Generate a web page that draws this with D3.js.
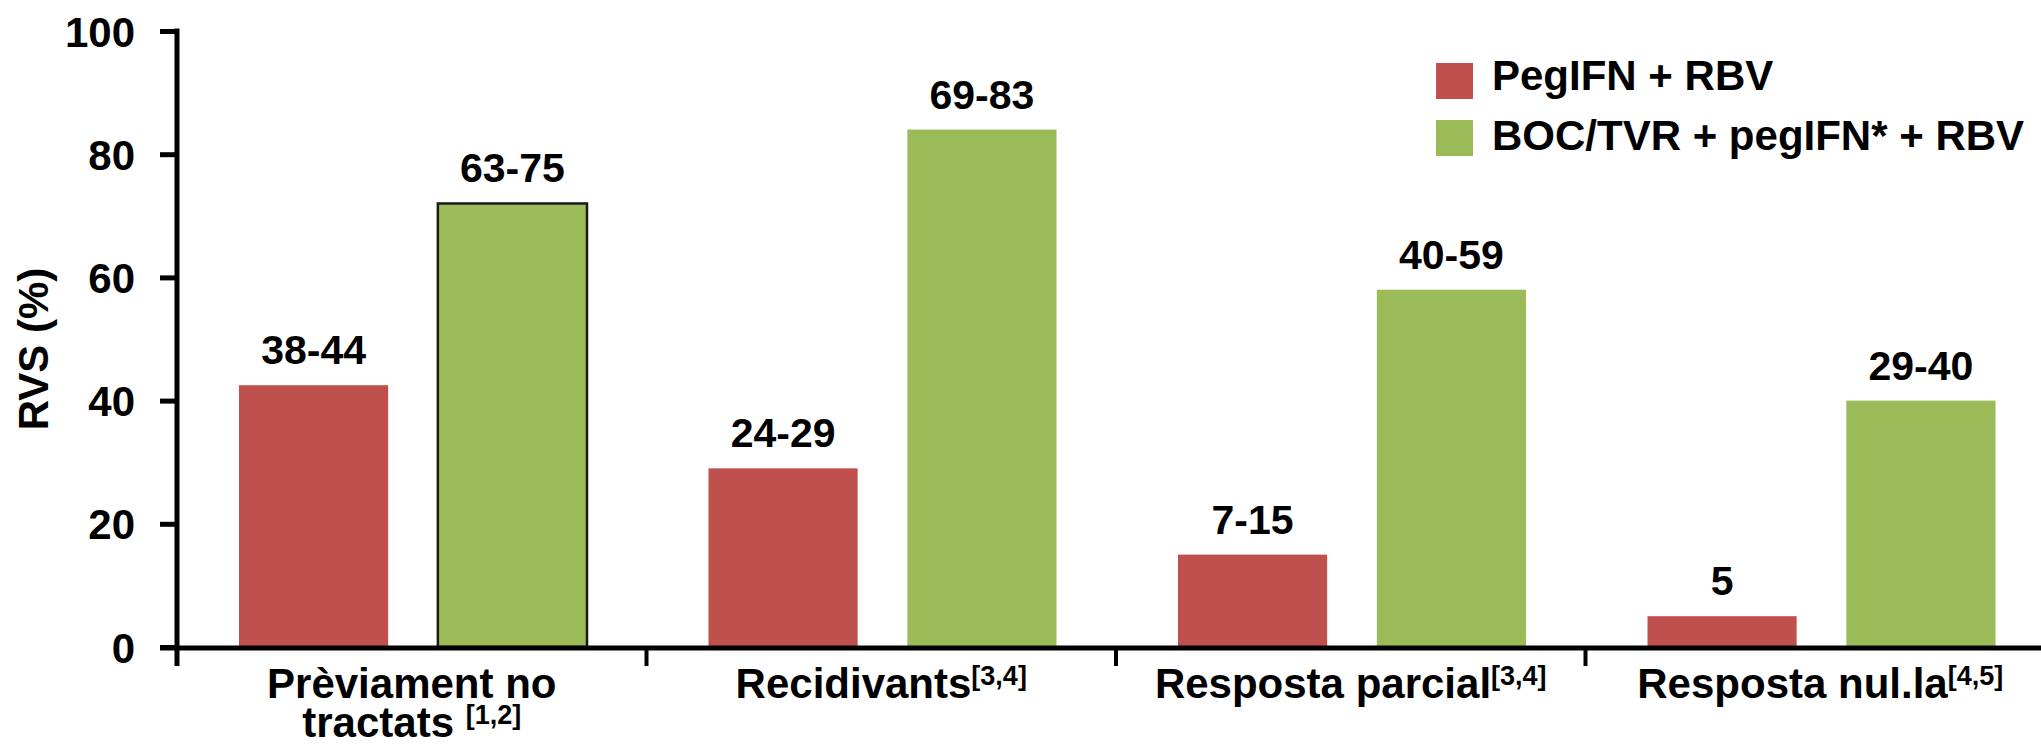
<!DOCTYPE html>
<html>
<head>
<meta charset="utf-8">
<script src="https://cdn.jsdelivr.net/npm/d3@7"></script>
<style>
  html, body { margin: 0; padding: 0; background: #fff; }
  svg { display: block; font-family: "Liberation Sans", Arial, sans-serif; font-weight: bold; }
</style>
</head>
<body>
<svg id="chart" width="2041" height="748"></svg>
<script>
// Patient groups (label lines + reference superscript)
const categoryLines = [["Prèviament no", "tractats "], ["Recidivants"], ["Resposta parcial"], ["Resposta nul.la"]];
const categoryRefs = ["[1,2]", "[3,4]", "[3,4]", "[4,5]"];

// Series
const seriesNames = ["PegIFN + RBV", "BOC/TVR + pegIFN* + RBV"];
const seriesColors = ["#C0504D", "#9BBB59"];

// RVS (%) per group
const pegValues = [42.5, 29, 15, 5];
const bocValues = [72, 84, 58, 40];
const pegLabels = ["38-44", "24-29", "7-15", "5"];
const bocLabels = ["63-75", "69-83", "40-59", "29-40"];

const yTicks = [0, 20, 40, 60, 80, 100];

const svg = d3.select("#chart");
const W = 2041, H = 748;
const x0 = 177, yTop = 31, yBase = 647;
const step = 469.5;

const groups = d3.range(categoryLines.length);
const x = d3.scaleBand().domain(groups).range([x0, x0 + step * groups.length]).padding(0);
const xs = d3.scaleBand().domain([0, 1]).range([62, 410]).paddingInner(0.25);
const y = d3.scaleLinear().domain([0, 100]).range([yBase, yTop]);

const rows = groups.map(i => [
  { s: 0, v: pegValues[i], label: pegLabels[i] },
  { s: 1, v: bocValues[i], label: bocLabels[i] }
]);

// Bars with range labels above them
const g = svg.append("g");
groups.forEach(i => {
  rows[i].forEach(d => {
    const bx = x(i) + xs(d.s);
    const rect = g.append("rect")
      .attr("x", bx)
      .attr("y", y(d.v))
      .attr("width", xs.bandwidth())
      .attr("height", y(0) - y(d.v))
      .attr("fill", seriesColors[d.s]);
    if (i === 0 && d.s === 1) {
      rect.attr("stroke", "#1a1a1a").attr("stroke-width", 2.5);
    }
    g.append("text")
      .attr("x", bx + xs.bandwidth() / 2)
      .attr("y", y(d.v) - 21)
      .attr("text-anchor", "middle")
      .attr("font-size", 41)
      .attr("fill", "#000")
      .text(d.label);
  });
});

// Y axis
const yAxis = d3.axisLeft(y).tickValues(yTicks).tickSize(17).tickPadding(25).tickSizeOuter(0);
const ya = svg.append("g").attr("transform", `translate(${x0},0)`).call(yAxis);
ya.select(".domain").remove();
ya.selectAll(".tick line").attr("stroke", "#000").attr("stroke-width", 5);
ya.selectAll(".tick text")
  .attr("font-size", 42).attr("font-weight", "bold")
  .attr("font-family", "Liberation Sans, Arial, sans-serif")
  .attr("fill", "#000").attr("dy", "0.36em");
svg.append("line")
  .attr("x1", x0).attr("x2", x0)
  .attr("y1", y(100) - 2.5).attr("y2", y(0) + 19)
  .attr("stroke", "#000").attr("stroke-width", 5);

// X axis line and group separators
svg.append("line")
  .attr("x1", x0 - 17).attr("x2", W)
  .attr("y1", y(0) + 1).attr("y2", y(0) + 1)
  .attr("stroke", "#000").attr("stroke-width", 5);
groups.slice(1).forEach(i => {
  svg.append("line")
    .attr("x1", x(i)).attr("x2", x(i))
    .attr("y1", y(0)).attr("y2", y(0) + 19)
    .attr("stroke", "#000").attr("stroke-width", 4);
});

// Category labels: one text per group, one tspan per line, superscript reference on the last line
groups.forEach(i => {
  const lines = categoryLines[i];
  const cx = x(i) + x.bandwidth() / 2;
  const t = svg.append("text")
    .attr("y", 698)
    .attr("text-anchor", "middle")
    .attr("font-size", 42)
    .attr("fill", "#000");
  lines.forEach((ln, k) => {
    const last = k === lines.length - 1;
    t.append("tspan")
      .attr("x", cx)
      .attr("dy", k === 0 ? 0 : 39 + 13 * 0)
      .text(ln);
    if (last) {
      t.append("tspan").attr("font-size", 27).attr("dy", -13).text(categoryRefs[i]);
    }
  });
});

// Y axis title
svg.append("text")
  .attr("transform", `translate(48,349) rotate(-90)`)
  .attr("text-anchor", "middle")
  .attr("font-size", 42)
  .attr("fill", "#000")
  .text("RVS (%)");

// Legend
const legend = svg.append("g").attr("transform", "translate(1436,63)");
seriesNames.forEach((name, k) => {
  legend.append("rect")
    .attr("x", 0).attr("y", k * 57)
    .attr("width", 37).attr("height", 36)
    .attr("fill", seriesColors[k]);
  legend.append("text")
    .attr("x", 56).attr("y", k * 60 + 27)
    .attr("font-size", 42)
    .attr("fill", "#000")
    .text(name);
});
</script>
</body>
</html>
